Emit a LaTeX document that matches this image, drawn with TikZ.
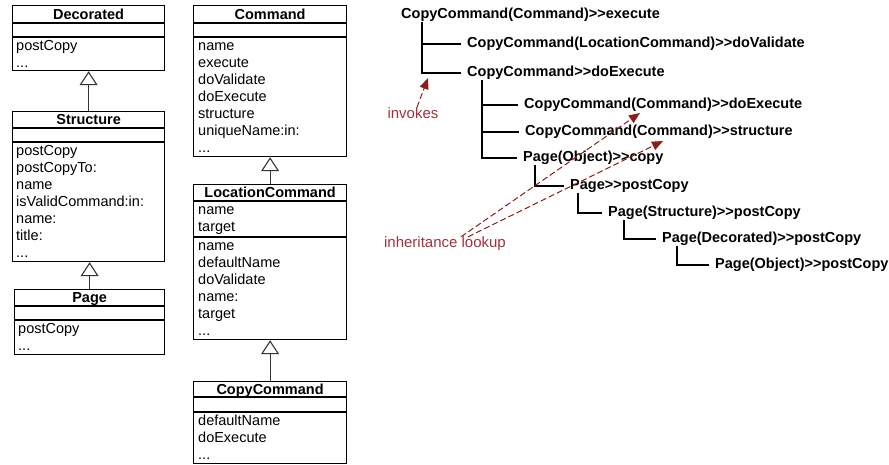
\documentclass[tikz,border=0pt]{standalone}
\usepackage{fontspec}
\setmainfont{Liberation Sans}[Ligatures=TeXOff]
\usetikzlibrary{arrows.meta}
\definecolor{lookupred}{RGB}{140,30,25}
\definecolor{notered}{RGB}{160,50,60}

\begin{document}
\begin{tikzpicture}[x=1pt, y=-1pt,
  cls/.style={draw, line width=1.2pt, anchor=north west, inner sep=0pt},
  ttl/.style={font=\bfseries\fontsize{14.5}{17}\selectfont, anchor=base, inner sep=0pt},
  mbr/.style={font=\fontsize{14.5}{17}\selectfont, anchor=north west, align=left, inner sep=0pt},
  isa/.style={-{Triangle[open, length=14pt, width=18pt]}, line width=1.1pt, draw=black!80},
  call/.style={font=\bfseries\fontsize{14.5}{17}\selectfont, anchor=west, inner sep=0pt,
    text height=10.5pt, text depth=3.5pt},
  tree/.style={line width=1.2pt},
  note/.style={font=\fontsize{15}{18}\selectfont, text=notered, inner sep=0pt},
  lookup/.style={-{Triangle[length=11pt, width=9pt]}, dash pattern=on 6pt off 3pt,
    line width=1pt, draw=lookupred}
]
\useasboundingbox (0,0) rectangle (889,464);

% class boxes
\node[cls, minimum width=152pt, minimum height=65pt] (dec) at (12,5) {};
\node[cls, minimum width=152pt, minimum height=150pt] (str) at (12,111) {};
\node[cls, minimum width=150pt, minimum height=65pt] (pag) at (14,289) {};
\node[cls, minimum width=153pt, minimum height=151pt] (cmd) at (193,5) {};
\node[cls, minimum width=153pt, minimum height=155pt] (loc) at (193,184) {};
\node[cls, minimum width=153pt, minimum height=82pt] (cpy) at (193,381) {};

\foreach \n/\d in {dec/18, dec/32, str/17, str/31, pag/17, pag/31,
                   cmd/18, cmd/32, loc/17, loc/53, cpy/16, cpy/31}
  \draw[line width=1.2pt] ([yshift=-\d pt]\n.north west) -- ([yshift=-\d pt]\n.north east);

\foreach \n/\t/\d in {dec/Decorated/14, str/Structure/13.5, pag/Page/13.5,
                      cmd/Command/14, loc/LocationCommand/13.5, cpy/CopyCommand/13}
  \node[ttl] at ([yshift=-\d pt]\n.north) {\t};

\node[mbr] at ([xshift=4pt, yshift=-33pt]dec.north west) {\strut postCopy\\...};
\node[mbr] at ([xshift=4pt, yshift=-32pt]str.north west)
  {\strut postCopy\\postCopyTo:\\name\\isValidCommand:in:\\name:\\title:\\...};
\node[mbr] at ([xshift=4pt, yshift=-32pt]pag.north west) {\strut postCopy\\...};
\node[mbr] at ([xshift=5pt, yshift=-33pt]cmd.north west)
  {\strut name\\execute\\doValidate\\doExecute\\structure\\uniqueName:in:\\...};
\node[mbr] at ([xshift=5pt, yshift=-18pt]loc.north west) {\strut name\\target};
\node[mbr] at ([xshift=5pt, yshift=-54pt]loc.north west)
  {\strut name\\defaultName\\doValidate\\name:\\target\\...};
\node[mbr] at ([xshift=5pt, yshift=-32pt]cpy.north west) {\strut defaultName\\doExecute\\...};

% generalisation
\draw[isa] (str.north) -- (dec.south);
\draw[isa] (pag.north) -- (pag.north |- str.south);
\draw[isa] (loc.north) -- (cmd.south);
\draw[isa] (cpy.north) -- (loc.south);

% call tree
\node[call] (exec) at (401,15) {CopyCommand(Command)>>execute};
\node[call] (valid) at (467,44) {CopyCommand(LocationCommand)>>doValidate};
\node[call] (doexec) at (467,73) {CopyCommand>>doExecute};
\node[call] (cmdexec) at (524,105) {CopyCommand(Command)>>doExecute};
\node[call] (cmdstruct) at (525,132) {CopyCommand(Command)>>structure};
\node[call] (copy) at (523,158) {Page(Object)>>copy};
\node[call] (post) at (570,186) {Page>>postCopy};
\node[call] (strpost) at (608,213) {Page(Structure)>>postCopy};
\node[call] (decpost) at (662,239) {Page(Decorated)>>postCopy};
\node[call] (objpost) at (715,265) {Page(Object)>>postCopy};

\foreach \a/\b/\o in {exec/valid/21, exec/doexec/21, doexec/cmdexec/15,
                      doexec/cmdstruct/15, doexec/copy/15, copy/post/12,
                      post/strpost/8, strpost/decpost/16, decpost/objpost/15}
  \draw[tree] ([xshift=\o pt]\a.south west) |- ([xshift=-6pt]\b.west);

% notes
\node[note] (inv) at (413,113) {invokes};
\node[note] (inh) at (445,244) {inheritance lookup};
\coordinate (invtip) at (428,78);
\coordinate (tipA) at (640,113);
\coordinate (tipB) at (663,141);
\draw[lookup] ([xshift=4pt]inv.north) -- (invtip);
\draw[lookup] ([xshift=16pt]inh.north) -- (tipA);
\draw[lookup] ([xshift=23pt]inh.north) -- (tipB);
\end{tikzpicture}
\end{document}
